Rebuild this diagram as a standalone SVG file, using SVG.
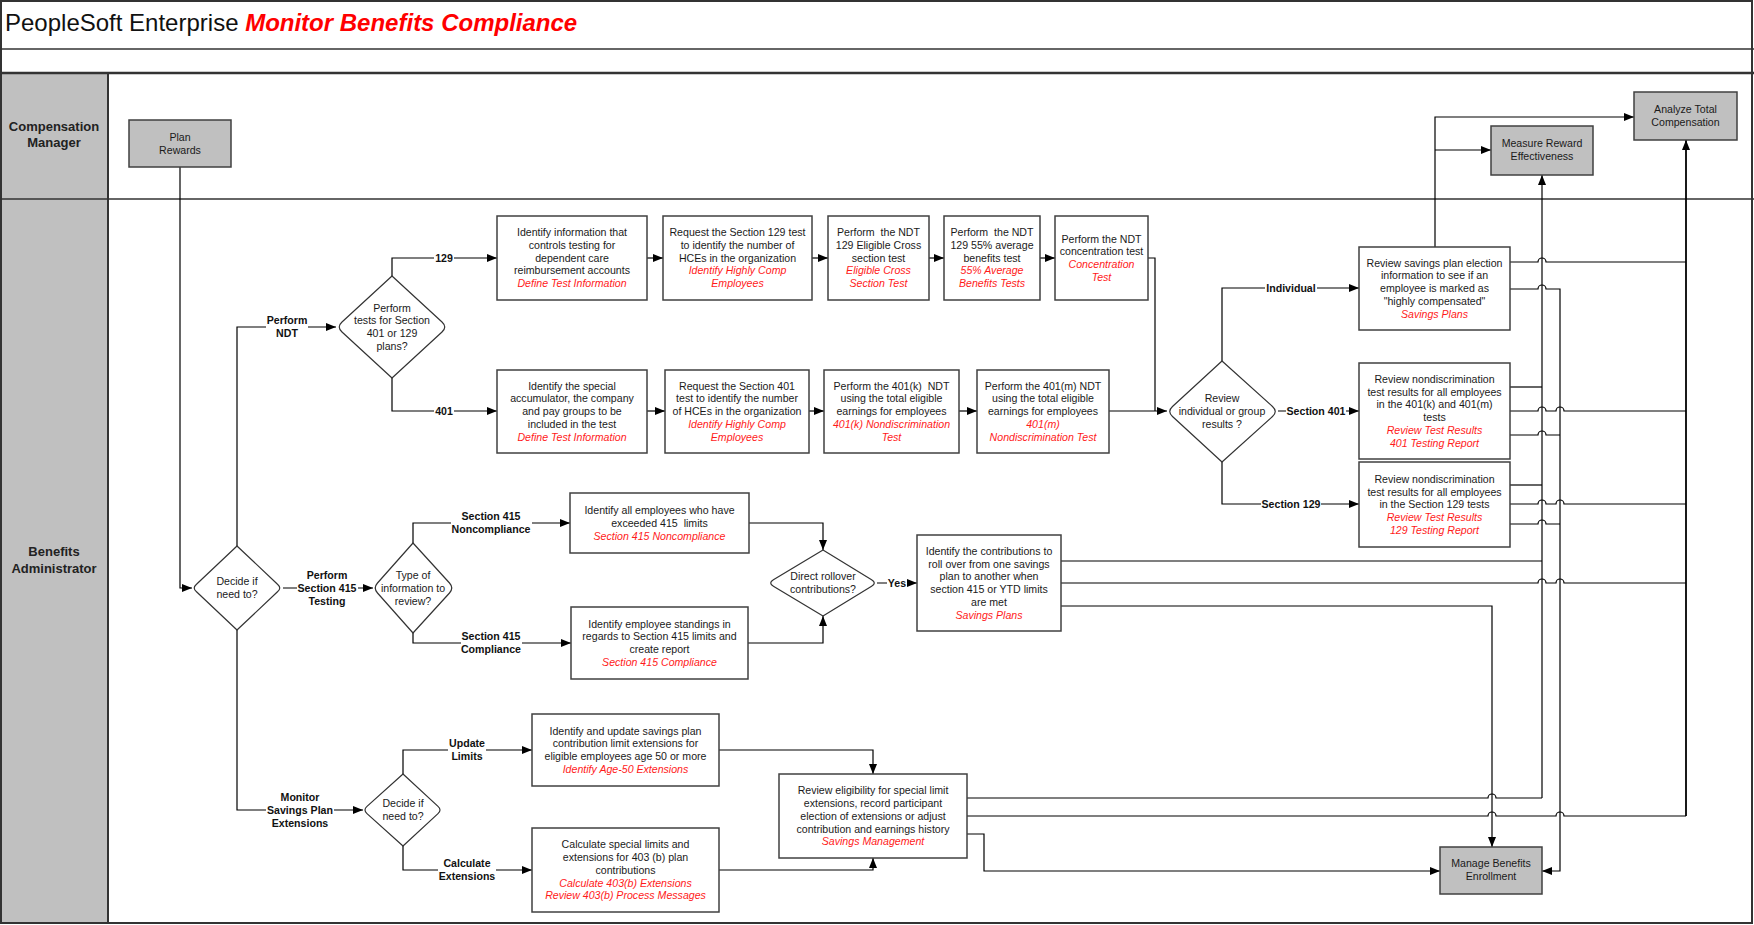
<svg xmlns="http://www.w3.org/2000/svg" width="1754" height="925" viewBox="0 0 1754 925">
<defs>
<style>
text{font-family:"Liberation Sans",Arial,sans-serif;font-size:10.6px;fill:#1a1a1a;text-anchor:middle}
.red{fill:#ff1a1a;font-style:italic}
.lbl{font-weight:bold;fill:#111}
.lane{font-weight:bold;font-size:13px;fill:#222}
.box{fill:#fff;stroke:#404040;stroke-width:1.5}
.gbox{fill:#c0c0c0;stroke:#404040;stroke-width:1.5}
.dia{fill:#fff;stroke:#333;stroke-width:1.2;stroke-linejoin:round}
.c{fill:none;stroke:#000;stroke-width:1.2}
.ca{fill:none;stroke:#000;stroke-width:1.2;marker-end:url(#ah)}
.bg{fill:#fff}
</style>
<marker id="ah" viewBox="0 0 10 8" refX="10" refY="4" markerWidth="10" markerHeight="8" markerUnits="userSpaceOnUse" orient="auto"><path d="M0,0 L10,4 L0,8 z" fill="#000"/></marker>
</defs>
<rect x="0" y="0" width="1754" height="925" fill="#fff"/>
<g id="frame">
<rect x="0" y="73" width="108" height="851" fill="#c0c0c0"/>
<rect x="1" y="1" width="1751" height="922" fill="none" stroke="#333" stroke-width="2"/>
<line x1="0" y1="49" x2="1754" y2="49" stroke="#333" stroke-width="1.5"/>
<line x1="0" y1="73" x2="1754" y2="73" stroke="#333" stroke-width="2.5"/>
<line x1="0" y1="199" x2="1754" y2="199" stroke="#333" stroke-width="1.5"/>
<line x1="108" y1="73" x2="108" y2="924" stroke="#333" stroke-width="2"/>
<text x="5" y="31" style="text-anchor:start;font-size:24px;fill:#111">PeopleSoft Enterprise <tspan style="fill:#ff0000;font-weight:bold;font-style:italic">Monitor Benefits Compliance</tspan></text>
<text class="lane" x="54" y="131">Compensation</text>
<text class="lane" x="54" y="146.5">Manager</text>
<text class="lane" x="54" y="556">Benefits</text>
<text class="lane" x="54" y="572.5">Administrator</text>
</g>
<g id="connectors">
<path class="ca" d="M180,167 V588 H192"/>
<path class="ca" d="M237,546 V327 H336"/>
<path class="ca" d="M392,276 V258 H497"/>
<path class="ca" d="M392,378 V411 H497"/>
<path class="ca" d="M647,258 H663"/>
<path class="ca" d="M812,258 H828"/>
<path class="ca" d="M929,258 H944"/>
<path class="ca" d="M1040,258 H1055"/>
<path class="ca" d="M647,411 H665"/>
<path class="ca" d="M809,411 H824"/>
<path class="ca" d="M959,411 H977"/>
<path class="ca" d="M1109,411 H1167"/>
<path class="c" d="M1148,258 H1155 V411"/>
<path class="ca" d="M1222,361 V288 H1359"/>
<path class="ca" d="M1278,411 H1359"/>
<path class="ca" d="M1222,462 V504 H1359"/>
<path class="ca" d="M283,588 H373"/>
<path class="ca" d="M413,543 V523 H570"/>
<path class="ca" d="M413,633 V643 H571"/>
<path class="ca" d="M749,523 H823 V550"/>
<path class="ca" d="M748,643 H823 V616"/>
<path class="ca" d="M877,583 H917"/>
<path class="ca" d="M237,630 V810 H363"/>
<path class="ca" d="M403,774 V750 H532"/>
<path class="ca" d="M403,846 V870 H532"/>
<path class="ca" d="M719,750 H873 V774"/>
<path class="ca" d="M719,870 H873 V858"/>
<path class="ca" d="M1435,247 V117 H1634"/>
<path class="ca" d="M1435,150 H1491"/>
<path class="c" d="M1510,262 H1538 a4,4 0 0 1 8,0 H1686"/>
<path class="ca" d="M1510,289 H1538 a4,4 0 0 1 8,0 H1560 V871 H1542"/>
<path class="c" d="M1510,387 H1542"/>
<path class="c" d="M1510,411 H1538 a4,4 0 0 1 8,0 H1556 a4,4 0 0 1 8,0 H1686"/>
<path class="c" d="M1510,435 H1538 a4,4 0 0 1 8,0 H1560"/>
<path class="c" d="M1510,485 H1542"/>
<path class="c" d="M1510,504 H1538 a4,4 0 0 1 8,0 H1556 a4,4 0 0 1 8,0 H1686"/>
<path class="c" d="M1510,524 H1538 a4,4 0 0 1 8,0 H1560"/>
<path class="c" d="M1061,561 H1542"/>
<path class="c" d="M1061,583 H1538 a4,4 0 0 1 8,0 H1556 a4,4 0 0 1 8,0 H1686"/>
<path class="ca" d="M1061,606 H1492 V847"/>
<path class="c" d="M967,798 H1488 a4,4 0 0 1 8,0 H1542"/>
<path class="c" d="M967,816 H1488 a4,4 0 0 1 8,0 H1556 a4,4 0 0 1 8,0 H1686"/>
<path class="ca" d="M967,834 H984 V871 H1440"/>
<path class="ca" d="M1542,798 V175"/>
<path class="ca" d="M1686,816 V140" style="stroke-width:1.8"/>
<rect class="bg" x="266" y="312" width="42" height="28"/>
<text class="lbl" x="287" y="324">Perform</text>
<text class="lbl" x="287" y="337">NDT</text>
<rect class="bg" x="434" y="252" width="20" height="12"/>
<text class="lbl" x="444" y="261.8">129</text>
<rect class="bg" x="434" y="405" width="20" height="12"/>
<text class="lbl" x="444" y="414.8">401</text>
<rect class="bg" x="1265" y="282" width="52" height="12"/>
<text class="lbl" x="1291" y="291.8">Individual</text>
<rect class="bg" x="1286" y="405" width="60" height="12"/>
<text class="lbl" x="1316" y="414.8">Section 401</text>
<rect class="bg" x="1261" y="498" width="60" height="12"/>
<text class="lbl" x="1291" y="507.8">Section 129</text>
<rect class="bg" x="297" y="568" width="61" height="40"/>
<text class="lbl" x="327" y="579">Perform</text>
<text class="lbl" x="327" y="591.8">Section 415</text>
<text class="lbl" x="327" y="604.6">Testing</text>
<rect class="bg" x="451" y="509" width="81" height="28"/>
<text class="lbl" x="491" y="520.4">Section 415</text>
<text class="lbl" x="491" y="533.2">Noncompliance</text>
<rect class="bg" x="461" y="629" width="61" height="28"/>
<text class="lbl" x="491" y="640.4">Section 415</text>
<text class="lbl" x="491" y="653.2">Compliance</text>
<rect class="bg" x="887" y="577" width="20" height="12"/>
<text class="lbl" x="897" y="586.8">Yes</text>
<rect class="bg" x="266" y="790" width="68" height="40"/>
<text class="lbl" x="300" y="801">Monitor</text>
<text class="lbl" x="300" y="813.8">Savings Plan</text>
<text class="lbl" x="300" y="826.6">Extensions</text>
<rect class="bg" x="448" y="737" width="38" height="27"/>
<text class="lbl" x="467" y="747.4">Update</text>
<text class="lbl" x="467" y="760.2">Limits</text>
<rect class="bg" x="438" y="857" width="58" height="27"/>
<text class="lbl" x="467" y="867.4">Calculate</text>
<text class="lbl" x="467" y="880.2">Extensions</text>
</g>
<g id="plan-rewards"><rect class="gbox" x="129" y="120" width="102" height="47"/><text x="180" y="141">Plan</text><text x="180" y="154">Rewards</text></g>
<g id="measure-reward"><rect class="gbox" x="1491" y="126" width="102" height="49"/><text x="1542" y="147">Measure Reward</text><text x="1542" y="160">Effectiveness</text></g>
<g id="analyze-total"><rect class="gbox" x="1634" y="92" width="103" height="48"/><text x="1685.5" y="112.5">Analyze Total</text><text x="1685.5" y="125.5">Compensation</text></g>
<g id="manage-benefits"><rect class="gbox" x="1440" y="847" width="102" height="47"/><text x="1491" y="867">Manage Benefits</text><text x="1491" y="880">Enrollment</text></g>
<g id="a1"><rect class="box" x="497" y="216" width="150" height="84"/><text x="572" y="236">Identify information that</text><text x="572" y="248.8">controls testing for</text><text x="572" y="261.6">dependent care</text><text x="572" y="274.4">reimbursement accounts</text><text class="red" x="572" y="287.2">Define Test Information</text></g>
<g id="a2"><rect class="box" x="663" y="216" width="149" height="84"/><text x="737.5" y="236">Request the Section 129 test</text><text x="737.5" y="248.8">to identify the number of</text><text x="737.5" y="261.6">HCEs in the organization</text><text class="red" x="737.5" y="274.4">Identify Highly Comp</text><text class="red" x="737.5" y="287.2">Employees</text></g>
<g id="a3"><rect class="box" x="828" y="216" width="101" height="84"/><text x="878.5" y="236" xml:space="preserve">Perform  the NDT</text><text x="878.5" y="248.8">129 Eligible Cross</text><text x="878.5" y="261.6">section test</text><text class="red" x="878.5" y="274.4">Eligible Cross</text><text class="red" x="878.5" y="287.2">Section Test</text></g>
<g id="a4"><rect class="box" x="944" y="216" width="96" height="84"/><text x="992" y="236" xml:space="preserve">Perform  the NDT</text><text x="992" y="248.8">129 55% average</text><text x="992" y="261.6">benefits test</text><text class="red" x="992" y="274.4">55% Average</text><text class="red" x="992" y="287.2">Benefits Tests</text></g>
<g id="a5"><rect class="box" x="1055" y="216" width="93" height="84"/><text x="1101.5" y="242.6">Perform the NDT</text><text x="1101.5" y="255.4">concentration test</text><text class="red" x="1101.5" y="268.2">Concentration</text><text class="red" x="1101.5" y="281">Test</text></g>
<g id="b1"><rect class="box" x="497" y="370" width="150" height="83"/><text x="572" y="389.5">Identify the special</text><text x="572" y="402.3">accumulator, the company</text><text x="572" y="415.1">and pay groups to be</text><text x="572" y="427.9">included in the test</text><text class="red" x="572" y="440.7">Define Test Information</text></g>
<g id="b2"><rect class="box" x="665" y="370" width="144" height="83"/><text x="737" y="389.5">Request the Section 401</text><text x="737" y="402.3">test to identify the number</text><text x="737" y="415.1">of HCEs in the organization</text><text class="red" x="737" y="427.9">Identify Highly Comp</text><text class="red" x="737" y="440.7">Employees</text></g>
<g id="b3"><rect class="box" x="824" y="370" width="135" height="83"/><text x="891.5" y="389.5" xml:space="preserve">Perform the 401(k)  NDT</text><text x="891.5" y="402.3">using the total eligible</text><text x="891.5" y="415.1">earnings for employees</text><text class="red" x="891.5" y="427.9">401(k) Nondiscrimination</text><text class="red" x="891.5" y="440.7">Test</text></g>
<g id="b4"><rect class="box" x="977" y="370" width="132" height="83"/><text x="1043" y="389.5">Perform the 401(m) NDT</text><text x="1043" y="402.3">using the total eligible</text><text x="1043" y="415.1">earnings for employees</text><text class="red" x="1043" y="427.9">401(m)</text><text class="red" x="1043" y="440.7">Nondiscrimination Test</text></g>
<g id="r1"><rect class="box" x="1359" y="247" width="151" height="83"/><text x="1434.5" y="266.5">Review savings plan election</text><text x="1434.5" y="279.3">information to see if an</text><text x="1434.5" y="292.1">employee is marked as</text><text x="1434.5" y="304.9">"highly compensated"</text><text class="red" x="1434.5" y="317.7">Savings Plans</text></g>
<g id="r2"><rect class="box" x="1359" y="363" width="151" height="96"/><text x="1434.5" y="382.8">Review nondiscrimination</text><text x="1434.5" y="395.6">test results for all employees</text><text x="1434.5" y="408.4">in the 401(k) and 401(m)</text><text x="1434.5" y="421.2">tests</text><text class="red" x="1434.5" y="434">Review Test Results</text><text class="red" x="1434.5" y="446.8">401 Testing Report</text></g>
<g id="r3"><rect class="box" x="1359" y="462" width="151" height="85"/><text x="1434.5" y="482.7">Review nondiscrimination</text><text x="1434.5" y="495.5">test results for all employees</text><text x="1434.5" y="508.3">in the Section 129 tests</text><text class="red" x="1434.5" y="521.1">Review Test Results</text><text class="red" x="1434.5" y="533.9">129 Testing Report</text></g>
<g id="c1"><rect class="box" x="570" y="493" width="179" height="60"/><text x="659.5" y="514">Identify all employees who have</text><text x="659.5" y="526.8" xml:space="preserve">exceeded 415  limits</text><text class="red" x="659.5" y="539.6">Section 415 Noncompliance</text></g>
<g id="c2"><rect class="box" x="571" y="607" width="177" height="72"/><text x="659.5" y="627.6">Identify employee standings in</text><text x="659.5" y="640.4">regards to Section 415 limits and</text><text x="659.5" y="653.2">create report</text><text class="red" x="659.5" y="666">Section 415 Compliance</text></g>
<g id="c3"><rect class="box" x="917" y="535" width="144" height="96"/><text x="989" y="554.8">Identify the contributions to</text><text x="989" y="567.6">roll over from one savings</text><text x="989" y="580.4">plan to another when</text><text x="989" y="593.2">section 415 or YTD limits</text><text x="989" y="606">are met</text><text class="red" x="989" y="618.8">Savings Plans</text></g>
<g id="e1"><rect class="box" x="532" y="714" width="187" height="72"/><text x="625.5" y="734.6">Identify and update savings plan</text><text x="625.5" y="747.4">contribution limit extensions for</text><text x="625.5" y="760.2">eligible employees age 50 or more</text><text class="red" x="625.5" y="773">Identify Age-50 Extensions</text></g>
<g id="e2"><rect class="box" x="532" y="828" width="187" height="84"/><text x="625.5" y="848.2">Calculate special limits and</text><text x="625.5" y="861">extensions for 403 (b) plan</text><text x="625.5" y="873.8">contributions</text><text class="red" x="625.5" y="886.6">Calculate 403(b) Extensions</text><text class="red" x="625.5" y="899.4">Review 403(b) Process Messages</text></g>
<g id="f"><rect class="box" x="779" y="774" width="188" height="84"/><text x="873" y="794.2">Review eligibility for special limit</text><text x="873" y="807">extensions, record participant</text><text x="873" y="819.8">election of extensions or adjust</text><text x="873" y="832.6">contribution and earnings history</text><text class="red" x="873" y="845.4">Savings Management</text></g>
<g id="d1"><path class="dia" d="M392,276 L442,322 Q447.5,327 442,332 L392,378 L342,332 Q336.5,327 342,322 Z"/><text x="392" y="311.6">Perform</text><text x="392" y="324.4">tests for Section</text><text x="392" y="337.2">401 or 129</text><text x="392" y="350">plans?</text></g>
<g id="d2"><path class="dia" d="M1222,361 L1272.5,406.5 Q1278,411.5 1272.5,416.5 L1222,462 L1172.5,416.5 Q1167,411.5 1172.5,406.5 Z"/><text x="1222" y="402">Review</text><text x="1222" y="414.8">individual or group</text><text x="1222" y="427.6">results ?</text></g>
<g id="d3"><path class="dia" d="M237,546 L277.5,584.2 Q282,588 277.5,591.8 L237,630 L196.5,591.8 Q192,588 196.5,584.2 Z"/><text x="237" y="585.4">Decide if</text><text x="237" y="598.2">need to?</text></g>
<g id="d4"><path class="dia" d="M413,543 L449.5,583 Q454,588 449.5,593 L413,633 L377.5,593 Q373,588 377.5,583 Z"/><text x="413" y="579">Type of</text><text x="413" y="591.8">information to</text><text x="413" y="604.6">review?</text></g>
<g id="d5"><path class="dia" d="M823,550 L871.6,579.7 Q877,583 871.6,586.3 L823,616 L773.4,586.3 Q768,583 773.4,579.7 Z"/><text x="823" y="580.4">Direct rollover</text><text x="823" y="593.2">contributions?</text></g>
<g id="d6"><path class="dia" d="M403,774 L438,806.4 Q442,810 438,813.6 L403,846 L367,813.6 Q363,810 367,806.4 Z"/><text x="403" y="807.4">Decide if</text><text x="403" y="820.2">need to?</text></g>
</svg>
